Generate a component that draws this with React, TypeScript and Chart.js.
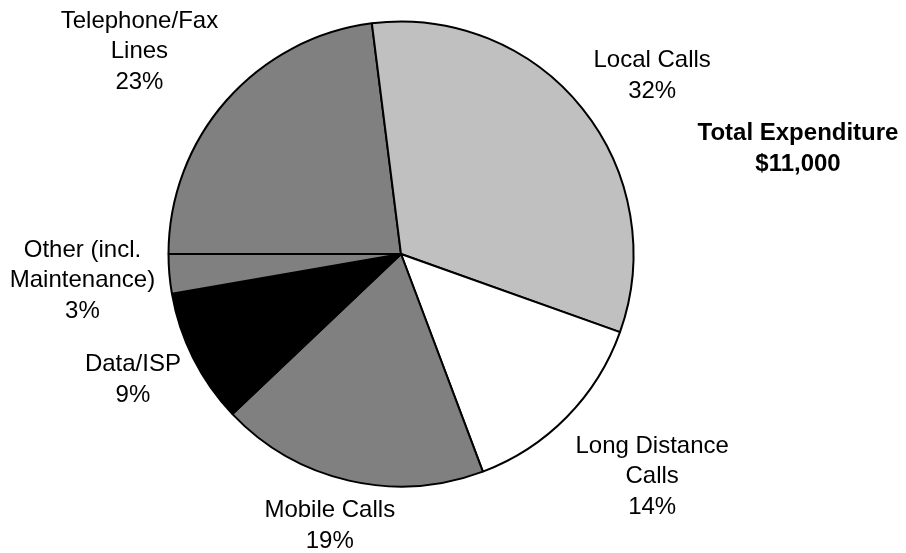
import React, { useEffect, useRef } from "react";
import { Chart, registerables } from "chart.js";

Chart.register(...registerables);

// ---- Data ----
const categories: string[][] = [
  ["Telephone/Fax", "Lines"],
  ["Local Calls"],
  ["Long Distance", "Calls"],
  ["Mobile Calls"],
  ["Data/ISP"],
  ["Other (incl.", "Maintenance)"],
];
const expenditure: number[] = [2530, 3570, 1520, 2050, 1030, 300];
const totalTitle = "Total Expenditure";

// ---- Styles ----
const sliceColors = ["#808080", "#C0C0C0", "#FFFFFF", "#808080", "#000000", "#808080"];
const labelGap = [37.5, 31, 43, 20.5, 19.5, 14.5];
const FONT = '"Liberation Sans", Arial, Helvetica, sans-serif';
const FONT_SIZE = 24;
const LINE_H = 30.5;
const CAP_H = FONT_SIZE * 0.716;

const labelPlugin = {
  id: "pieLabels",
  afterDatasetsDraw(chart: any) {
    const ctx: CanvasRenderingContext2D = chart.ctx;
    const meta = chart.getDatasetMeta(0);
    const data = chart.data.datasets[0].data as number[];
    const total = data.reduce((s, v) => s + v, 0);
    ctx.save();
    ctx.font = `${FONT_SIZE}px ${FONT}`;
    ctx.fillStyle = "#000";
    ctx.textAlign = "center";
    ctx.textBaseline = "alphabetic";
    meta.data.forEach((arc: any, i: number) => {
      const { x, y, startAngle, endAngle, outerRadius } = arc.getProps(
        ["x", "y", "startAngle", "endAngle", "outerRadius"],
        true
      );
      const mid = (startAngle + endAngle) / 2;
      const dx = Math.cos(mid);
      const dy = Math.sin(mid);
      const lines = [...categories[i], Math.round((data[i] / total) * 100) + "%"];
      const a = Math.max(...lines.map((l) => ctx.measureText(l).width)) / 2;
      const b = ((lines.length - 1) * LINE_H + CAP_H) / 2;
      const R = outerRadius + labelGap[i];
      let cx = x + dx * R + dx * a;
      let cy = y + dy * R + dy * b;
      cx = Math.min(Math.max(cx, a + 4), chart.width - a - 4);
      cy = Math.min(Math.max(cy, b + 4), chart.height - b - 4);
      const base = cy - b + CAP_H;
      lines.forEach((l, k) => ctx.fillText(l, cx, base + k * LINE_H));
    });

    // Total annotation
    const area = chart.chartArea;
    const tx = chart.width - 108;
    const ty = area.top + 119;
    ctx.font = `bold ${FONT_SIZE}px ${FONT}`;
    ctx.fillText(totalTitle, tx, ty);
    ctx.fillText("$" + total.toLocaleString("en-US"), tx, ty + 31);
    ctx.restore();
  },
};

export default function App() {
  const ref = useRef<HTMLCanvasElement>(null);
  useEffect(() => {
    if (!ref.current) return;
    const chart = new Chart(ref.current, {
      type: "pie",
      data: {
        labels: categories.map((c) => c.join(" ")),
        datasets: [
          {
            data: expenditure,
            backgroundColor: sliceColors,
            borderColor: "#000000",
            borderWidth: 2,
            hoverBorderWidth: 2,
            offset: 0,
            hoverOffset: 0,
          },
        ],
      },
      options: {
        responsive: false,
        animation: false,
        events: [],
        rotation: -90,
        layout: { padding: { top: 20.5, bottom: 65.5, left: 0, right: 104 } },
        plugins: {
          legend: { display: false },
          tooltip: { enabled: false },
        },
      },
      plugins: [labelPlugin],
    });
    return () => chart.destroy();
  }, []);
  return (
    <div style={{ position: "absolute", left: 0, top: 0, width: 906, height: 553, background: "#fff" }}>
      <canvas ref={ref} width={906} height={553} style={{ display: "block" }} />
    </div>
  );
}
